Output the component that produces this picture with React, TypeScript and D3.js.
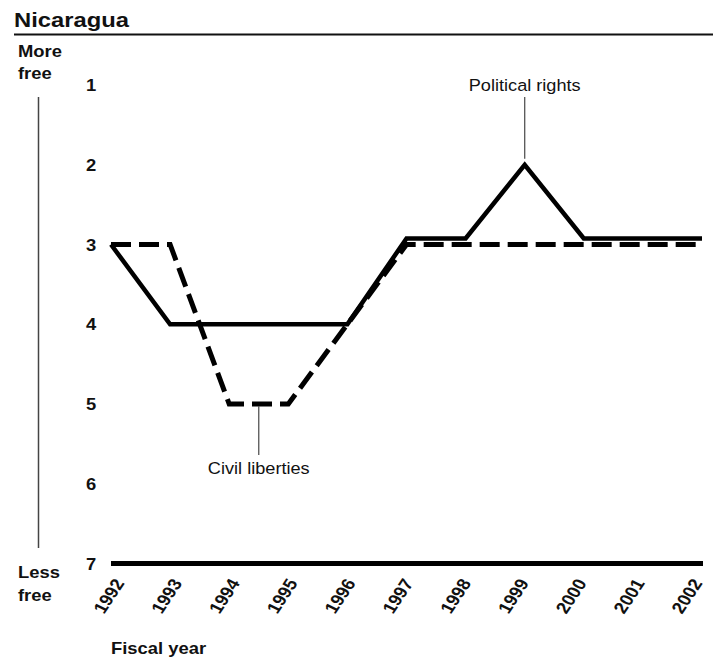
import React, { useRef, useEffect } from 'react';
import * as d3 from 'd3';

const years = [1992, 1993, 1994, 1995, 1996, 1997, 1998, 1999, 2000, 2001, 2002];
const politicalRights = [3, 4, 4, 4, 4, 3, 3, 2, 3, 3, 3];
const civilLiberties = [3, 3, 5, 5, 4, 3, 3, 3, 3, 3, 3];
const yTicks = [1, 2, 3, 4, 5, 6, 7];

const FONT = '"Liberation Sans", Arial, Helvetica, sans-serif';
const STRETCH = 1.15; // the source type is set a little wide

const App: React.FC = () => {
  const svgRef = useRef<SVGSVGElement>(null);

  useEffect(() => {
    if (!svgRef.current) return;
    const svg = d3.select(svgRef.current);
    svg.selectAll('*').remove();

    const x = d3.scaleLinear().domain([1992, 2002]).range([111, 702]);
    // year labels are spaced a touch tighter than the data points
    const xLabel = d3.scaleLinear().domain([1992, 2002]).range([125, 703]);
    const y = d3.scaleLinear().domain([1, 7]).range([85, 563.5]);

    const label = (
      tx: number,
      ty: number,
      text: string,
      opts: { weight?: string; size?: number; anchor?: string; sx?: number } = {}
    ) =>
      svg
        .append('text')
        .attr('transform', `translate(${tx},${ty}) scale(${opts.sx ?? STRETCH},1)`)
        .attr('text-anchor', opts.anchor ?? 'start')
        .attr('font-family', FONT)
        .attr('font-weight', opts.weight ?? 'bold')
        .attr('font-size', opts.size ?? 16)
        .attr('fill', '#111')
        .text(text);

    // title + rule
    label(14, 27, 'Nicaragua', { size: 20.5, sx: 1.16 });
    svg.append('line')
      .attr('x1', 14).attr('x2', 713).attr('y1', 34.5).attr('y2', 34.5)
      .attr('stroke', '#111').attr('stroke-width', 2);

    // left "more free / less free" indicator
    label(18, 57, 'More');
    label(18, 79, 'free');
    label(18, 578, 'Less');
    label(18, 601, 'free');
    svg.append('line')
      .attr('x1', 38.5).attr('x2', 38.5).attr('y1', 97).attr('y2', 548)
      .attr('stroke', '#444').attr('stroke-width', 1.5);

    // y tick labels
    yTicks.forEach((t) => {
      label(86, y(t) + 6, String(t));
    });

    // baseline
    svg.append('line')
      .attr('x1', x(1992)).attr('x2', x(2002) + 1)
      .attr('y1', y(7)).attr('y2', y(7))
      .attr('stroke', '#000').attr('stroke-width', 5);

    // x tick labels, rotated (stretched the same way as the rest of the type)
    years.forEach((yr) => {
      svg.append('text')
        .attr('transform', `translate(${xLabel(yr)},${583}) scale(${STRETCH},1) rotate(-60)`)
        .attr('text-anchor', 'end')
        .attr('font-family', FONT)
        .attr('font-weight', 'bold')
        .attr('font-size', 16.5)
        .attr('fill', '#111')
        .text(String(yr));
    });

    label(111, 654, 'Fiscal year');

    // lines
    const line = d3.line<[number, number]>()
      .x((d) => d[0])
      .y((d) => d[1]);

    const clPts: [number, number][] = years.map((yr, i) => [x(yr), y(civilLiberties[i])]);
    // where both series sit on the same value after 1996, lift the solid line so both stay visible
    const prPts: [number, number][] = years.map((yr, i) => {
      const nudge = yr >= 1997 && politicalRights[i] === civilLiberties[i] ? -6 : 0;
      return [x(yr), y(politicalRights[i]) + nudge];
    });

    svg.append('path')
      .attr('d', line(clPts))
      .attr('fill', 'none')
      .attr('stroke', '#000')
      .attr('stroke-width', 5)
      .attr('stroke-dasharray', '20 8')
      .attr('stroke-linejoin', 'miter');

    svg.append('path')
      .attr('d', line(prPts))
      .attr('fill', 'none')
      .attr('stroke', '#000')
      .attr('stroke-width', 4.5)
      .attr('stroke-linejoin', 'miter');

    // annotations
    svg.append('line')
      .attr('x1', x(1999)).attr('x2', x(1999)).attr('y1', 97).attr('y2', y(2) - 6)
      .attr('stroke', '#555').attr('stroke-width', 1.3);
    label(x(1999), 91, 'Political rights', { weight: 'normal', size: 16.5, anchor: 'middle', sx: 1.1 });

    const clX = (x(1994) + x(1995)) / 2;
    svg.append('line')
      .attr('x1', clX).attr('x2', clX).attr('y1', y(5) + 2).attr('y2', 455)
      .attr('stroke', '#555').attr('stroke-width', 1.3);
    label(clX, 474, 'Civil liberties', { weight: 'normal', size: 16.5, anchor: 'middle', sx: 1.1 });
  }, []);

  return (
    <svg
      ref={svgRef}
      width={713}
      height={660}
      style={{ position: 'absolute', left: 0, top: 0, background: '#fff' }}
    />
  );
};

export default App;
